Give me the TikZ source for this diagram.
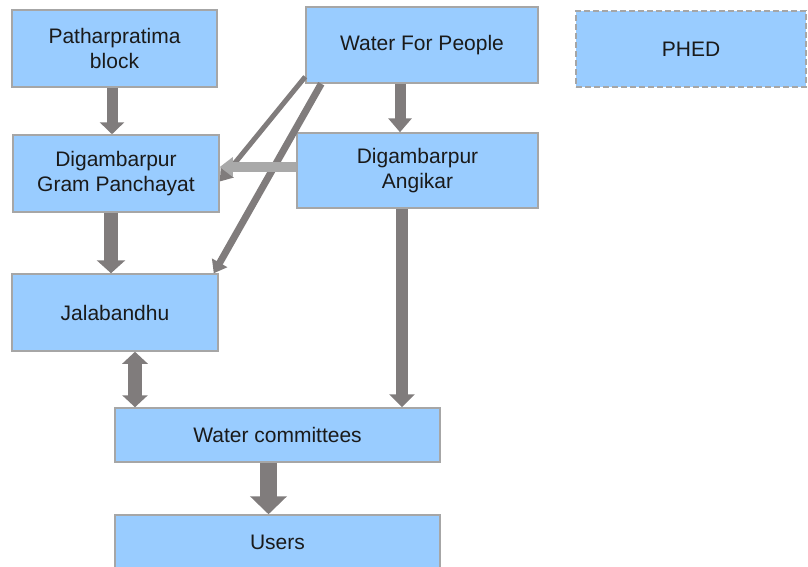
\documentclass[tikz,border=0pt]{standalone}
\usepackage{fontspec}
\setmainfont{Liberation Sans}
\usetikzlibrary{arrows.meta,calc}
\definecolor{boxfill}{HTML}{99CCFF}
\definecolor{boxline}{HTML}{A6A6A6}
\definecolor{arr}{HTML}{807C7C}
\definecolor{arrlight}{HTML}{A9A9A9}
\definecolor{txt}{HTML}{1A1A1A}
\begin{document}
\begin{tikzpicture}[x=1pt,y=-1pt,
  box/.style={draw=boxline, fill=boxfill, line width=1.5pt, inner sep=0pt,
    align=center, text=txt, font=\fontsize{21}{25}\selectfont},
  dashbox/.style={box, dash pattern=on 6pt off 3pt},
  barrow/.style={draw=arr, line cap=butt},
]
\useasboundingbox (0,0) rectangle (808,566);

\node[box, minimum width=205pt, minimum height=77pt] (pb) at (114.5,48.5) {Patharpratima\\block};
\node[box, minimum width=232pt, minimum height=76pt] (wfp) at (422,45) {Water For People};
\node[dashbox, minimum width=230pt, minimum height=76pt] (phed) at (691,49) {PHED};
\node[box, minimum width=206pt, minimum height=77pt] (dgp) at (116,173.5) {Digambarpur\\Gram Panchayat};
\node[box, minimum width=241pt, minimum height=75pt] (ang) at (417.5,170.5) {Digambarpur\\Angikar};
\node[box, minimum width=206pt, minimum height=77pt] (jal) at (115,312.5) {Jalabandhu};
\node[box, minimum width=325pt, minimum height=54pt] (wc) at (277.5,435) {Water committees};
\node[box, minimum width=325pt, minimum height=54pt] (users) at (277.5,542) {Users};

% diagonal arrows
\draw[barrow, line width=5pt, -{Triangle[width=16pt,length=12pt]}]
  ([yshift=7pt]wfp.south west) -- ([yshift=-8pt]dgp.east);
\draw[barrow, line width=7pt, -{Triangle[width=17pt,length=12pt]}]
  ([xshift=16pt]wfp.south west) -- ([xshift=-5pt]jal.north east);

% vertical block arrows
\draw[barrow, line width=11pt, -{Triangle[width=24pt,length=12pt]}]
  ([xshift=-2.5pt]pb.south) -- ([xshift=-2.5pt]pb.south |- dgp.north);
\draw[barrow, line width=11pt, -{Triangle[width=23pt,length=14pt]}]
  ([xshift=-22pt]wfp.south) -- ([xshift=-22pt]wfp.south |- ang.north);
\draw[barrow, line width=14pt, -{Triangle[width=28pt,length=13pt]}]
  ([xshift=-5pt]dgp.south) -- ([xshift=-5pt]dgp.south |- jal.north);
\draw[barrow, line width=12pt, -{Triangle[width=25pt,length=13pt]}]
  ([xshift=-15.5pt]ang.south) -- ([xshift=-15.5pt]ang.south |- wc.north);
\draw[barrow, line width=14pt, {Triangle[width=25pt,length=12pt]}-{Triangle[width=25pt,length=12pt]}]
  ([xshift=20pt]jal.south) -- ([xshift=20pt]jal.south |- wc.north);
\draw[barrow, line width=17pt, -{Triangle[width=36pt,length=18pt]}]
  ([xshift=-9pt]wc.south) -- ([xshift=-9pt]wc.south |- users.north);

% light horizontal arrow
\draw[draw=arrlight, line cap=butt, line width=10pt, -{Triangle[width=19pt,length=13pt]}]
  ([yshift=3.5pt]ang.west) -- ([yshift=3.5pt]ang.west -| dgp.east);
\end{tikzpicture}
\end{document}
